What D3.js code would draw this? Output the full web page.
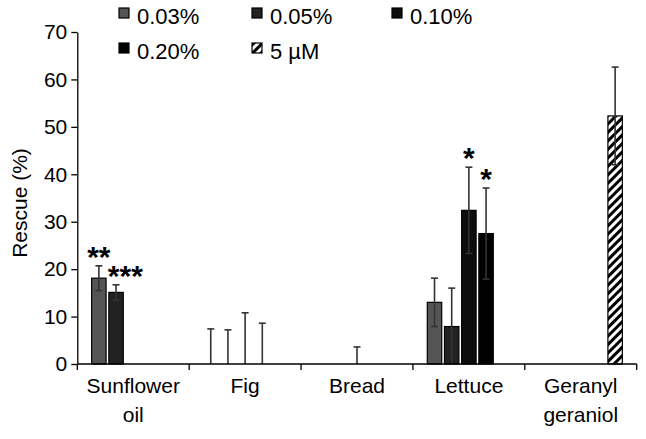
<!DOCTYPE html>
<html>
<head>
<meta charset="utf-8">
<script src="https://cdn.jsdelivr.net/npm/d3@7"></script>
<style>
  html, body { margin: 0; padding: 0; background: #fff; }
  svg { display: block; font-family: "Liberation Sans", Arial, Helvetica, sans-serif; }
</style>
</head>
<body>
<svg id="chart" width="646" height="439"></svg>
<script>
// ---- data ----
const categories = ["Sunflower oil", "Fig", "Bread", "Lettuce", "Geranyl geraniol"];
const seriesNames = ["0.03%", "0.05%", "0.10%", "0.20%", "5 \u00B5M"];
// null = no bar for that concentration
const values003 = [18.1, 0, null, 13.0, null];
const errors003 = [2.6, 7.4, null, 5.1, null];
const values005 = [15.1, 0, null, 7.9, null];
const errors005 = [1.6, 7.2, null, 8.1, null];
const values010 = [null, 0, 0, 32.4, null];
const errors010 = [null, 10.8, 3.6, 9.1, null];
const values020 = [null, 0, null, 27.5, null];
const errors020 = [null, 8.6, null, 9.6, null];
const values5uM = [null, null, null, null, 52.3];
const errors5uM = [null, null, null, null, 10.3];
const yTicks = [0, 10, 20, 30, 40, 50, 60, 70];
const sigCategory = ["Sunflower oil", "Sunflower oil", "Lettuce", "Lettuce"];
const sigSeries = ["0.03%", "0.05%", "0.10%", "0.20%"];
const sigLabel = ["**", "***", "*", "*"];

// ---- build ----
const seriesValues = [values003, values005, values010, values020, values5uM];
const seriesErrors = [errors003, errors005, errors010, errors020, errors5uM];
const fills = ["#555555", "#222222", "#0d0d0d", "#000000", "url(#hatch)"];

const svg = d3.select("#chart");
const defs = svg.append("defs");
const pat = defs.append("pattern")
  .attr("id", "hatch").attr("patternUnits", "userSpaceOnUse")
  .attr("width", 6).attr("height", 6)
  .attr("patternTransform", "rotate(45)");
pat.append("rect").attr("width", 6).attr("height", 6).attr("fill", "#fff");
pat.append("rect").attr("width", 3).attr("height", 6).attr("fill", "#000");

const x0 = d3.scaleBand().domain(categories).range([77.3, 636.7]).paddingInner(0).paddingOuter(0);
const x1 = d3.scaleBand().domain(seriesNames).range([0, x0.bandwidth()]).paddingInner(0.16).paddingOuter(0.835);
const y = d3.scaleLinear().domain([0, 70]).range([364, 32]);

const records = [];
seriesNames.forEach((s, si) => {
  categories.forEach((c, ci) => {
    const v = seriesValues[si][ci];
    if (v === null) return;
    records.push({ s, si, c, v, e: seriesErrors[si][ci] });
  });
});

// bars
svg.append("g").selectAll("rect")
  .data(records.filter(d => d.v > 0))
  .join("rect")
  .attr("x", d => x0(d.c) + x1(d.s))
  .attr("y", d => y(d.v))
  .attr("width", x1.bandwidth())
  .attr("height", d => y(0) - y(d.v))
  .attr("fill", d => fills[d.si])
  .attr("stroke", "#000")
  .attr("stroke-width", 1.2);

// error bars
const eg = svg.append("g").attr("stroke", "#333").attr("stroke-width", 1.6).attr("fill", "none");
const cap = 3.5;
records.forEach(d => {
  if (d.e === null) return;
  const cx = x0(d.c) + x1(d.s) + x1.bandwidth() / 2;
  const top = d.v + d.e;
  const bot = Math.max(0, d.v - d.e);
  eg.append("line").attr("x1", cx).attr("x2", cx).attr("y1", y(bot)).attr("y2", y(top));
  eg.append("line").attr("x1", cx - cap).attr("x2", cx + cap).attr("y1", y(top)).attr("y2", y(top));
  if (d.v - d.e > 0) {
    eg.append("line").attr("x1", cx - cap).attr("x2", cx + cap).attr("y1", y(bot)).attr("y2", y(bot));
  }
});

// significance
sigLabel.forEach((lab, i) => {
  const ci = categories.indexOf(sigCategory[i]);
  const si = seriesNames.indexOf(sigSeries[i]);
  const top = seriesValues[si][ci] + seriesErrors[si][ci];
  const cx = x0(sigCategory[i]) + x1(sigSeries[i]) + x1.bandwidth() / 2;
  svg.append("text")
    .attr("x", lab.length > 2 ? x0(sigCategory[i]) + x1(sigSeries[i]) - 1 : cx)
    .attr("y", y(top) + 1)
    .attr("text-anchor", lab.length > 2 ? "start" : "middle")
    .attr("font-size", 30).attr("font-weight", "bold")
    .text(lab);
});

// y axis
const yAxis = svg.append("g").attr("transform", "translate(77.3,0)")
  .call(d3.axisLeft(y).tickValues(yTicks).tickSize(6).tickPadding(4).tickSizeOuter(0));
yAxis.select(".domain").attr("stroke", "#000").attr("stroke-width", 1.3);
yAxis.selectAll(".tick line").attr("stroke", "#000").attr("stroke-width", 1.3);
yAxis.selectAll(".tick text").attr("font-size", 21).attr("fill", "#000")
  .attr("font-family", "Liberation Sans, Arial, sans-serif");

// x axis
const xAxisG = svg.append("g").attr("transform", "translate(0,364)");
xAxisG.append("line").attr("x1", 77.3).attr("x2", 636.7).attr("y1", 0).attr("y2", 0)
  .attr("stroke", "#000").attr("stroke-width", 1.3);
const boundaries = categories.map(c => x0(c)).concat([x0(categories[categories.length - 1]) + x0.bandwidth()]);
xAxisG.selectAll("line.tk").data(boundaries).join("line").attr("class", "tk")
  .attr("x1", d => d).attr("x2", d => d).attr("y1", 0).attr("y2", 6)
  .attr("stroke", "#000").attr("stroke-width", 1.3);
categories.forEach(c => {
  const parts = c === "Sunflower oil" ? ["Sunflower", "oil"] :
                c === "Geranyl geraniol" ? ["Geranyl", "geraniol"] : [c];
  const t = xAxisG.append("text").attr("x", x0(c) + x0.bandwidth() / 2).attr("y", 29)
    .attr("text-anchor", "middle").attr("font-size", 21).attr("fill", "#000");
  parts.forEach((p, i) => t.append("tspan").attr("x", x0(c) + x0.bandwidth() / 2).attr("dy", i === 0 ? 0 : 29).text(p));
});

// y title
svg.append("text")
  .attr("transform", "translate(27,203) rotate(-90)")
  .attr("text-anchor", "middle").attr("font-size", 21).attr("fill", "#000")
  .text("Rescue (%)");

// legend
const legX = [119, 252, 392, 119, 252];
const legY = [8, 8, 8, 43, 43];
seriesNames.forEach((s, i) => {
  const g = svg.append("g").attr("transform", `translate(${legX[i]},${legY[i]})`);
  g.append("rect").attr("width", 10).attr("height", 10)
    .attr("fill", fills[i]).attr("stroke", "#000").attr("stroke-width", 1.2);
  g.append("text").attr("x", 18).attr("y", 15.5).attr("font-size", 22).attr("fill", "#000").text(s);
});
</script>
</body>
</html>
